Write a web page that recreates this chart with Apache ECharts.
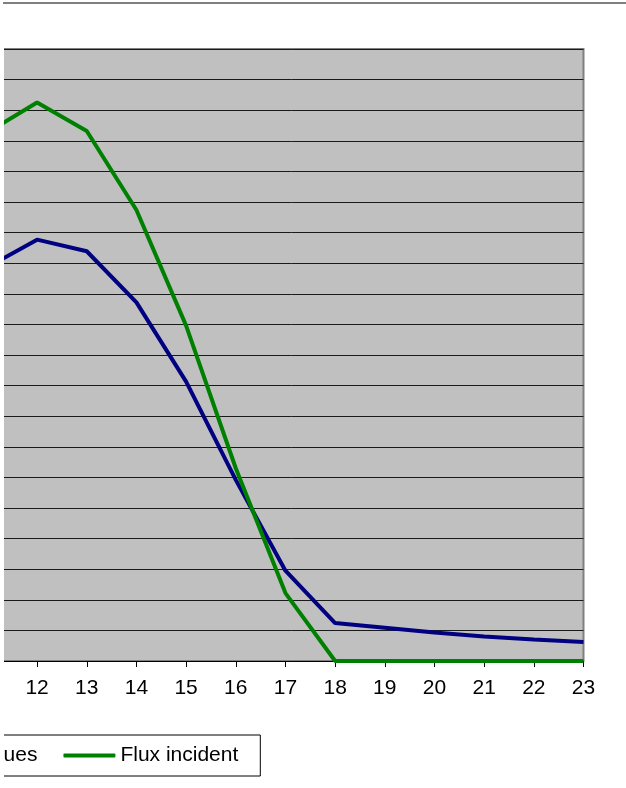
<!DOCTYPE html>
<html>
<head>
<meta charset="utf-8">
<script src="https://cdn.jsdelivr.net/npm/echarts@6/dist/echarts.min.js"></script>
<style>
  html, body { margin: 0; padding: 0; background: #fff; }
  #main { width: 626px; height: 788px; }
</style>
</head>
<body>
<div id="main"></div>
<script>
// hours (the chart is cut on the left, 11 sits just outside the view)
const hours = ['11', '12', '13', '14', '15', '16', '17', '18', '19', '20', '21', '22', '23'];
// values in gridline units
const pertes = [12.87, 13.77, 13.39, 11.72, 9.13, 5.92, 2.95, 1.24, 1.09, 0.93, 0.80, 0.70, 0.62];
const fluxIncident = [17.27, 18.25, 17.32, 14.74, 10.96, 6.3, 2.22, 0, 0, 0, 0, 0, 0];

const chart = echarts.init(document.getElementById('main'));
const font = 'Liberation Sans, Arial, sans-serif';

const option = {
  backgroundColor: '#fff',
  animation: false,
  textStyle: { fontFamily: font, color: '#000' },
  grid: {
    left: -12.6,
    right: 42.5,
    top: 49,
    bottom: 127,
    containLabel: false,
    outerBoundsMode: 'none',
    show: true,
    backgroundColor: '#c0c0c0',
    borderColor: '#808080',
    borderWidth: 2
  },
  xAxis: {
    type: 'category',
    data: hours,
    boundaryGap: false,
    axisLine: { lineStyle: { color: '#000', width: 1 } },
    axisTick: { length: 6, lineStyle: { color: '#000' } },
    axisLabel: { fontSize: 21, color: '#000', margin: 17, fontFamily: font },
    splitLine: { show: false }
  },
  yAxis: {
    type: 'value',
    min: 0,
    max: 20,
    interval: 1,
    axisLine: { show: false },
    axisTick: { show: false },
    axisLabel: { show: false },
    splitLine: { lineStyle: { color: '#1a1a1a', width: 1 } }
  },
  legend: {
    left: -200,
    top: 735,
    width: 700,
    orient: 'horizontal',
    padding: [10, 22, 10, 10],
    itemGap: 26,
    itemWidth: 52,
    itemHeight: 4,
    icon: 'roundRect',
    borderColor: '#000',
    borderWidth: 1,
    backgroundColor: '#fff',
    textStyle: { fontSize: 21, color: '#000', fontFamily: font },
    data: ['Pertes thermiques', 'Flux incident']
  },
  graphic: [
    { type: 'rect', shape: { x: 0, y: 6, width: 4, height: 782 }, style: { fill: '#fff' }, z: 100 },
    { type: 'rect', shape: { x: 3, y: 2, width: 623, height: 2 }, style: { fill: '#808080' }, z: 100 }
  ],
  series: [
    {
      name: 'Pertes thermiques',
      type: 'line',
      data: pertes,
      symbol: 'none',
      lineStyle: { color: '#000080', width: 4 },
      itemStyle: { color: '#000080' }
    },
    {
      name: 'Flux incident',
      type: 'line',
      data: fluxIncident,
      symbol: 'none',
      lineStyle: { color: '#008000', width: 4 },
      itemStyle: { color: '#008000' }
    }
  ]
};

option && chart.setOption(option);
</script>
</body>
</html>
